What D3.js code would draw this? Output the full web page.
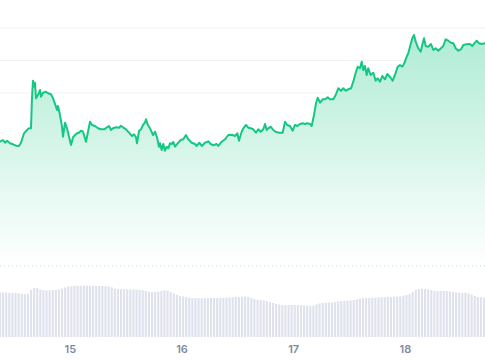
<!DOCTYPE html>
<html><head><meta charset="utf-8">
<script src="https://cdn.jsdelivr.net/npm/d3@7"></script>
<style>html,body{margin:0;padding:0;background:#fff;} svg{display:block}</style>
</head><body><svg id="c" width="485" height="360"></svg>
<script>
// ---- data ----
const startTime = new Date(2024, 2, 14, 9, 0);
const spanHours = 104.21;
const hours = [0,0.64,1.07,1.50,2.15,2.79,3.44,4.08,4.51,5.16,5.80,6.23,6.66,6.88,7.09,7.31,7.52,7.73,8.16,8.59,8.81,9.24,9.88,10.31,10.96,11.39,12.03,12.25,12.46,12.89,13.32,13.54,13.97,14.40,14.83,15.26,15.68,16.11,16.54,16.97,17.40,17.83,18.48,18.91,19.34,19.77,20.41,21.06,21.70,22.35,22.99,23.42,23.85,24.28,24.92,25.57,26.00,26.43,27.07,27.72,28.36,28.79,29.22,29.44,29.87,30.30,30.72,31.15,31.37,31.80,32.23,32.66,32.87,33.30,33.73,34.16,34.38,34.74,35.09,35.45,35.82,36.16,36.53,36.89,37.24,37.60,38.31,38.83,39.38,39.96,40.46,41.19,41.90,42.26,42.82,43.34,44.05,44.76,45.27,45.83,46.56,46.90,47.63,48.34,49.05,49.78,50.49,50.99,51.35,51.93,52.28,52.86,53.35,53.87,54.42,55.00,55.50,56.01,56.57,56.94,57.30,57.65,58.16,58.72,59.30,60.01,60.74,61.24,61.73,62.31,62.89,63.38,63.88,64.46,65.04,65.53,66.03,66.61,66.97,67.47,67.90,68.26,68.76,69.34,69.89,70.41,70.90,71.61,72.13,72.69,73.27,73.76,74.28,74.83,75.42,75.91,76.43,76.86,77.35,77.72,78.06,78.42,78.79,79.13,79.65,80.21,80.72,81.15,81.65,82.14,82.72,83.22,83.80,84.37,84.87,85.45,85.94,86.44,86.87,87.38,87.73,88.09,88.59,88.95,89.32,89.88,90.39,90.82,91.10,91.47,92.02,92.60,93.10,93.61,94.17,94.75,95.25,95.76,96.32,96.90,97.40,97.91,98.47,99.05,99.55,100.27,100.98,101.48,101.91,102.42,102.92,103.50,104.21];
const prices = [3316.6,3320,3314.6,3318.6,3313.4,3311.4,3308.6,3308,3314.6,3333.4,3340,3343.4,3343.4,3406.6,3438.6,3426.6,3434.6,3403.4,3410,3420,3406.6,3414.6,3416.6,3413.4,3411.4,3403.4,3386.6,3380,3388,3370,3346.6,3326.6,3354.6,3343.4,3326.6,3310,3325.4,3330,3333.4,3334.6,3338.6,3336.6,3316.6,3336.6,3356.6,3350,3348,3343.4,3341.4,3341.4,3345.4,3348,3340,3343.4,3345.4,3344.6,3348.6,3345.4,3341.4,3334.6,3328,3331.4,3325.4,3313.4,3338,3341.4,3350,3354.6,3361.4,3349.4,3343.4,3334.6,3330,3336.6,3325.4,3306.6,3313.4,3300,3312,3298.6,3306.6,3303.4,3313.4,3312,3316,3306.6,3314.6,3320,3321.4,3330,3321.4,3314.6,3312,3308,3314.6,3308,3314.6,3317.4,3312,3309.4,3312,3308,3316.6,3321.4,3330,3330.6,3328,3333.4,3318.6,3336.6,3343.4,3350,3344.6,3343.4,3341.4,3334.6,3341.4,3336.6,3341.4,3352,3340,3343.4,3346.6,3340,3336,3334.6,3334.6,3356.6,3350,3348,3338.6,3350,3348,3352,3353.4,3352,3353.4,3352,3348,3370,3393.4,3404.6,3394.6,3401.4,3401.4,3405.4,3401.4,3401.4,3410,3423.4,3418.6,3423.4,3418.6,3421.4,3423.4,3436.6,3454.6,3466.6,3463.4,3476.6,3460,3468,3450,3463.4,3450,3454.6,3438.6,3443.4,3436.6,3448,3441.4,3452,3446.6,3438.6,3450,3466.6,3470,3466.6,3473.4,3486.6,3493.4,3506.6,3523.4,3530,3516.6,3503.4,3496.6,3513.4,3523.4,3508,3506.6,3512,3500,3503.4,3498.6,3503.4,3508,3521.4,3518.6,3514.6,3513.4,3503.4,3498.6,3501.4,3510,3511.4,3512,3508,3513.4,3518.6,3513.4,3512,3513.4];
const volumeStepMinutes = 40;
const volumes = [22.2,22.2,22.2,22.1,22.0,22.0,21.8,21.5,21.4,21.6,23.5,24.6,24.5,23.8,23.4,23.3,23.3,23.5,23.5,23.8,24.3,24.8,25.2,25.4,25.6,25.6,25.6,25.7,25.7,25.6,25.6,25.6,25.5,25.5,25.4,25.3,24.8,24.2,24.0,23.9,23.9,23.8,23.8,23.8,23.7,23.6,23.4,23.0,22.6,22.5,22.5,22.7,23.0,23.3,23.1,22.5,21.8,21.0,20.5,20.3,20.0,19.7,19.5,19.5,19.4,19.4,19.4,19.4,19.5,19.5,19.5,19.6,19.6,19.7,19.8,19.9,20.0,20.0,20.1,20.2,20.0,19.5,19.0,18.6,18.5,18.3,18.0,17.5,17.0,16.5,16.2,16.0,16.0,16.0,16.0,16.0,16.0,15.9,15.8,15.7,15.5,15.6,16.3,16.8,17.1,17.2,17.2,17.3,17.5,17.8,18.0,18.1,18.2,18.3,18.5,18.8,19.2,19.4,19.5,19.6,19.6,19.7,19.8,19.9,19.9,20.0,20.0,20.1,20.2,20.3,20.6,21.0,21.4,22.5,23.5,24.0,24.2,24.0,23.8,23.4,23.1,23.0,23.0,23.0,23.0,22.8,22.6,22.3,22.1,22.0,22.1,21.8,21.2,20.5,20.0,19.8,19.7];
const gridValues = [3544,3479,3414];
const priceDomain = [3068, 3600];
const volumeDomain = [0, 35];

// ---- chart ----
const W = 485, H = 360;
const svg = d3.select("#c");
const endTime = new Date(+startTime + spanHours * 3600e3);
const x = d3.scaleTime().domain([startTime, endTime]).range([0, W]);
const y = d3.scaleLinear().domain(priceDomain).range([266, 0]);
const yv = d3.scaleLinear().domain(volumeDomain).range([337, 267]);

const pts = hours.map((h, i) => ({t: new Date(+startTime + h * 3600e3), p: prices[i]}));

const defs = svg.append("defs");
const grad = defs.append("linearGradient").attr("id", "g")
  .attr("gradientUnits", "userSpaceOnUse")
  .attr("x1", 0).attr("x2", 0)
  .attr("y1", y(d3.max(prices))).attr("y2", y(priceDomain[0]));
grad.append("stop").attr("offset", "0%").attr("stop-color", "#16c784").attr("stop-opacity", 0.34);
grad.append("stop").attr("offset", "100%").attr("stop-color", "#16c784").attr("stop-opacity", 0);

// gridlines
svg.append("g").selectAll("line").data(gridValues).join("line")
  .attr("x1", 0).attr("x2", W)
  .attr("y1", d => y(d)).attr("y2", d => y(d))
  .attr("stroke", "#f2f2f2").attr("stroke-width", 1);

const area = d3.area().x(d => x(d.t)).y0(y(priceDomain[0])).y1(d => y(d.p));
svg.append("path").datum(pts).attr("d", area).attr("fill", "#fff");
svg.append("path").datum(pts).attr("d", area).attr("fill", "url(#g)");

// dotted baseline
svg.append("line").attr("x1", 0).attr("x2", W)
  .attr("y1", y(priceDomain[0])).attr("y2", y(priceDomain[0]))
  .attr("stroke", "#cfd3db").attr("stroke-width", 1).attr("stroke-dasharray", "1,3");

// line
const line = d3.line().x(d => x(d.t)).y(d => y(d.p));
svg.append("path").datum(pts).attr("d", line)
  .attr("fill", "none").attr("stroke", "#16c784").attr("stroke-width", 2)
  .attr("stroke-linejoin", "round").attr("stroke-linecap", "round");

// volume bars
const barW = 2.1;
svg.append("g").selectAll("rect").data(volumes).join("rect")
  .attr("x", (d, i) => x(d3.timeMinute.offset(startTime, i * volumeStepMinutes)) - barW / 2)
  .attr("width", barW)
  .attr("y", d => yv(d))
  .attr("height", d => yv(0) - yv(d))
  .attr("fill", "#dfe1ec");

// x axis
const ax = svg.append("g").attr("transform", "translate(0,341)")
  .call(d3.axisBottom(x).ticks(d3.timeDay.every(1)).tickFormat(d3.timeFormat("%-d")).tickSize(0).tickPadding(4));
ax.select(".domain").remove();
ax.selectAll("text").attr("fill", "#808a9d").attr("font-size", 11).attr("font-weight", 600)
  .attr("font-family", "Inter, 'Noto Sans', sans-serif");
</script></body></html>
